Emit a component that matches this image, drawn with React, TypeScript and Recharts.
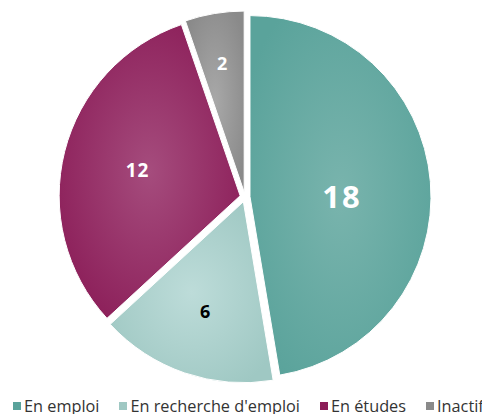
import { PieChart, Pie, Cell, Sector, Legend } from "recharts"

const categories = ["En emploi", "En recherche d'emploi", "En études", "Inactif"]
const counts = [18, 6, 12, 2]

const baseColors = ["#5aa39b", "#9fc8c3", "#8b1d58", "#8a8a8a"]
const lightColors = ["#79b4ad", "#bddcd9", "#a54c7d", "#a8a8a8"]
const labelColors = ["#ffffff", "#000000", "#ffffff", "#ffffff"]
const labelSizes = [31, 18, 19, 18]
const labelRadius = [0.51, 0.64, 0.585, 0.72]
const labelNudgeY = [7, 0, 0, -1]

const RAD = Math.PI / 180
const EXPLODE = 5

const data = categories.map((name, i) => ({ name, value: counts[i] }))

function shift(midAngle: number) {
  return {
    dx: EXPLODE * Math.cos(-midAngle * RAD),
    dy: EXPLODE * Math.sin(-midAngle * RAD),
  }
}

function ExplodedSlice(props: any) {
  const { dx, dy } = shift(props.midAngle)
  return (
    <Sector
      cx={props.cx + dx}
      cy={props.cy + dy}
      innerRadius={props.innerRadius}
      outerRadius={props.outerRadius}
      startAngle={props.startAngle}
      endAngle={props.endAngle}
      fill={props.fill}
      stroke="#fff"
      strokeWidth={1}
    />
  )
}

function SliceLabel(props: any) {
  const { cx, cy, midAngle, outerRadius, index, value } = props
  const { dx, dy } = shift(midAngle)
  const r = outerRadius * labelRadius[index]
  const x = cx + dx + r * Math.cos(-midAngle * RAD)
  const y = cy + dy + r * Math.sin(-midAngle * RAD) + labelNudgeY[index]
  return (
    <text
      x={x}
      y={y}
      fill={labelColors[index]}
      textAnchor="middle"
      dominantBaseline="central"
      fontFamily="'Open Sans', sans-serif"
      fontWeight={700}
      fontSize={labelSizes[index]}
      letterSpacing={index === 0 ? 2 : 1}
    >
      {value}
    </text>
  )
}

function LegendRow() {
  return (
    <div
      style={{
        display: "flex",
        whiteSpace: "nowrap",
        fontFamily: "'Open Sans', sans-serif",
        fontSize: 16.3,
        color: "#333",
        lineHeight: "18px",
      }}
    >
      {categories.map((c, i) => (
        <span key={c} style={{ display: "flex", alignItems: "center", marginRight: 20 }}>
          <span
            style={{
              width: 8,
              height: 8,
              background: baseColors[i],
              marginRight: 3,
              display: "inline-block",
            }}
          />
          {c}
        </span>
      ))}
    </div>
  )
}

export default function App() {
  return (
    <div style={{ position: "absolute", left: 0, top: 0, width: 482, height: 414, overflow: "hidden", background: "#fff" }}>
      <PieChart width={482} height={414} margin={{ top: 0, right: 0, bottom: 0, left: 0 }}>
        <defs>
          {baseColors.map((c, i) => (
            <radialGradient key={i} id={`slice${i}`} cx="50%" cy="50%" r="60%">
              <stop offset="0%" stopColor={lightColors[i]} />
              <stop offset="100%" stopColor={c} />
            </radialGradient>
          ))}
        </defs>
        <Pie
          data={data}
          dataKey="value"
          nameKey="name"
          cx={245}
          cy={197}
          outerRadius={181}
          startAngle={90}
          endAngle={-270}
          shape={ExplodedSlice}
          label={SliceLabel}
          labelLine={false}
          isAnimationActive={false}
        >
          {data.map((d, i) => (
            <Cell key={d.name} fill={`url(#slice${i})`} />
          ))}
        </Pie>
        <Legend
          content={<LegendRow />}
          wrapperStyle={{ left: 13, top: 397, width: 600 }}
        />
      </PieChart>
    </div>
  )
}
